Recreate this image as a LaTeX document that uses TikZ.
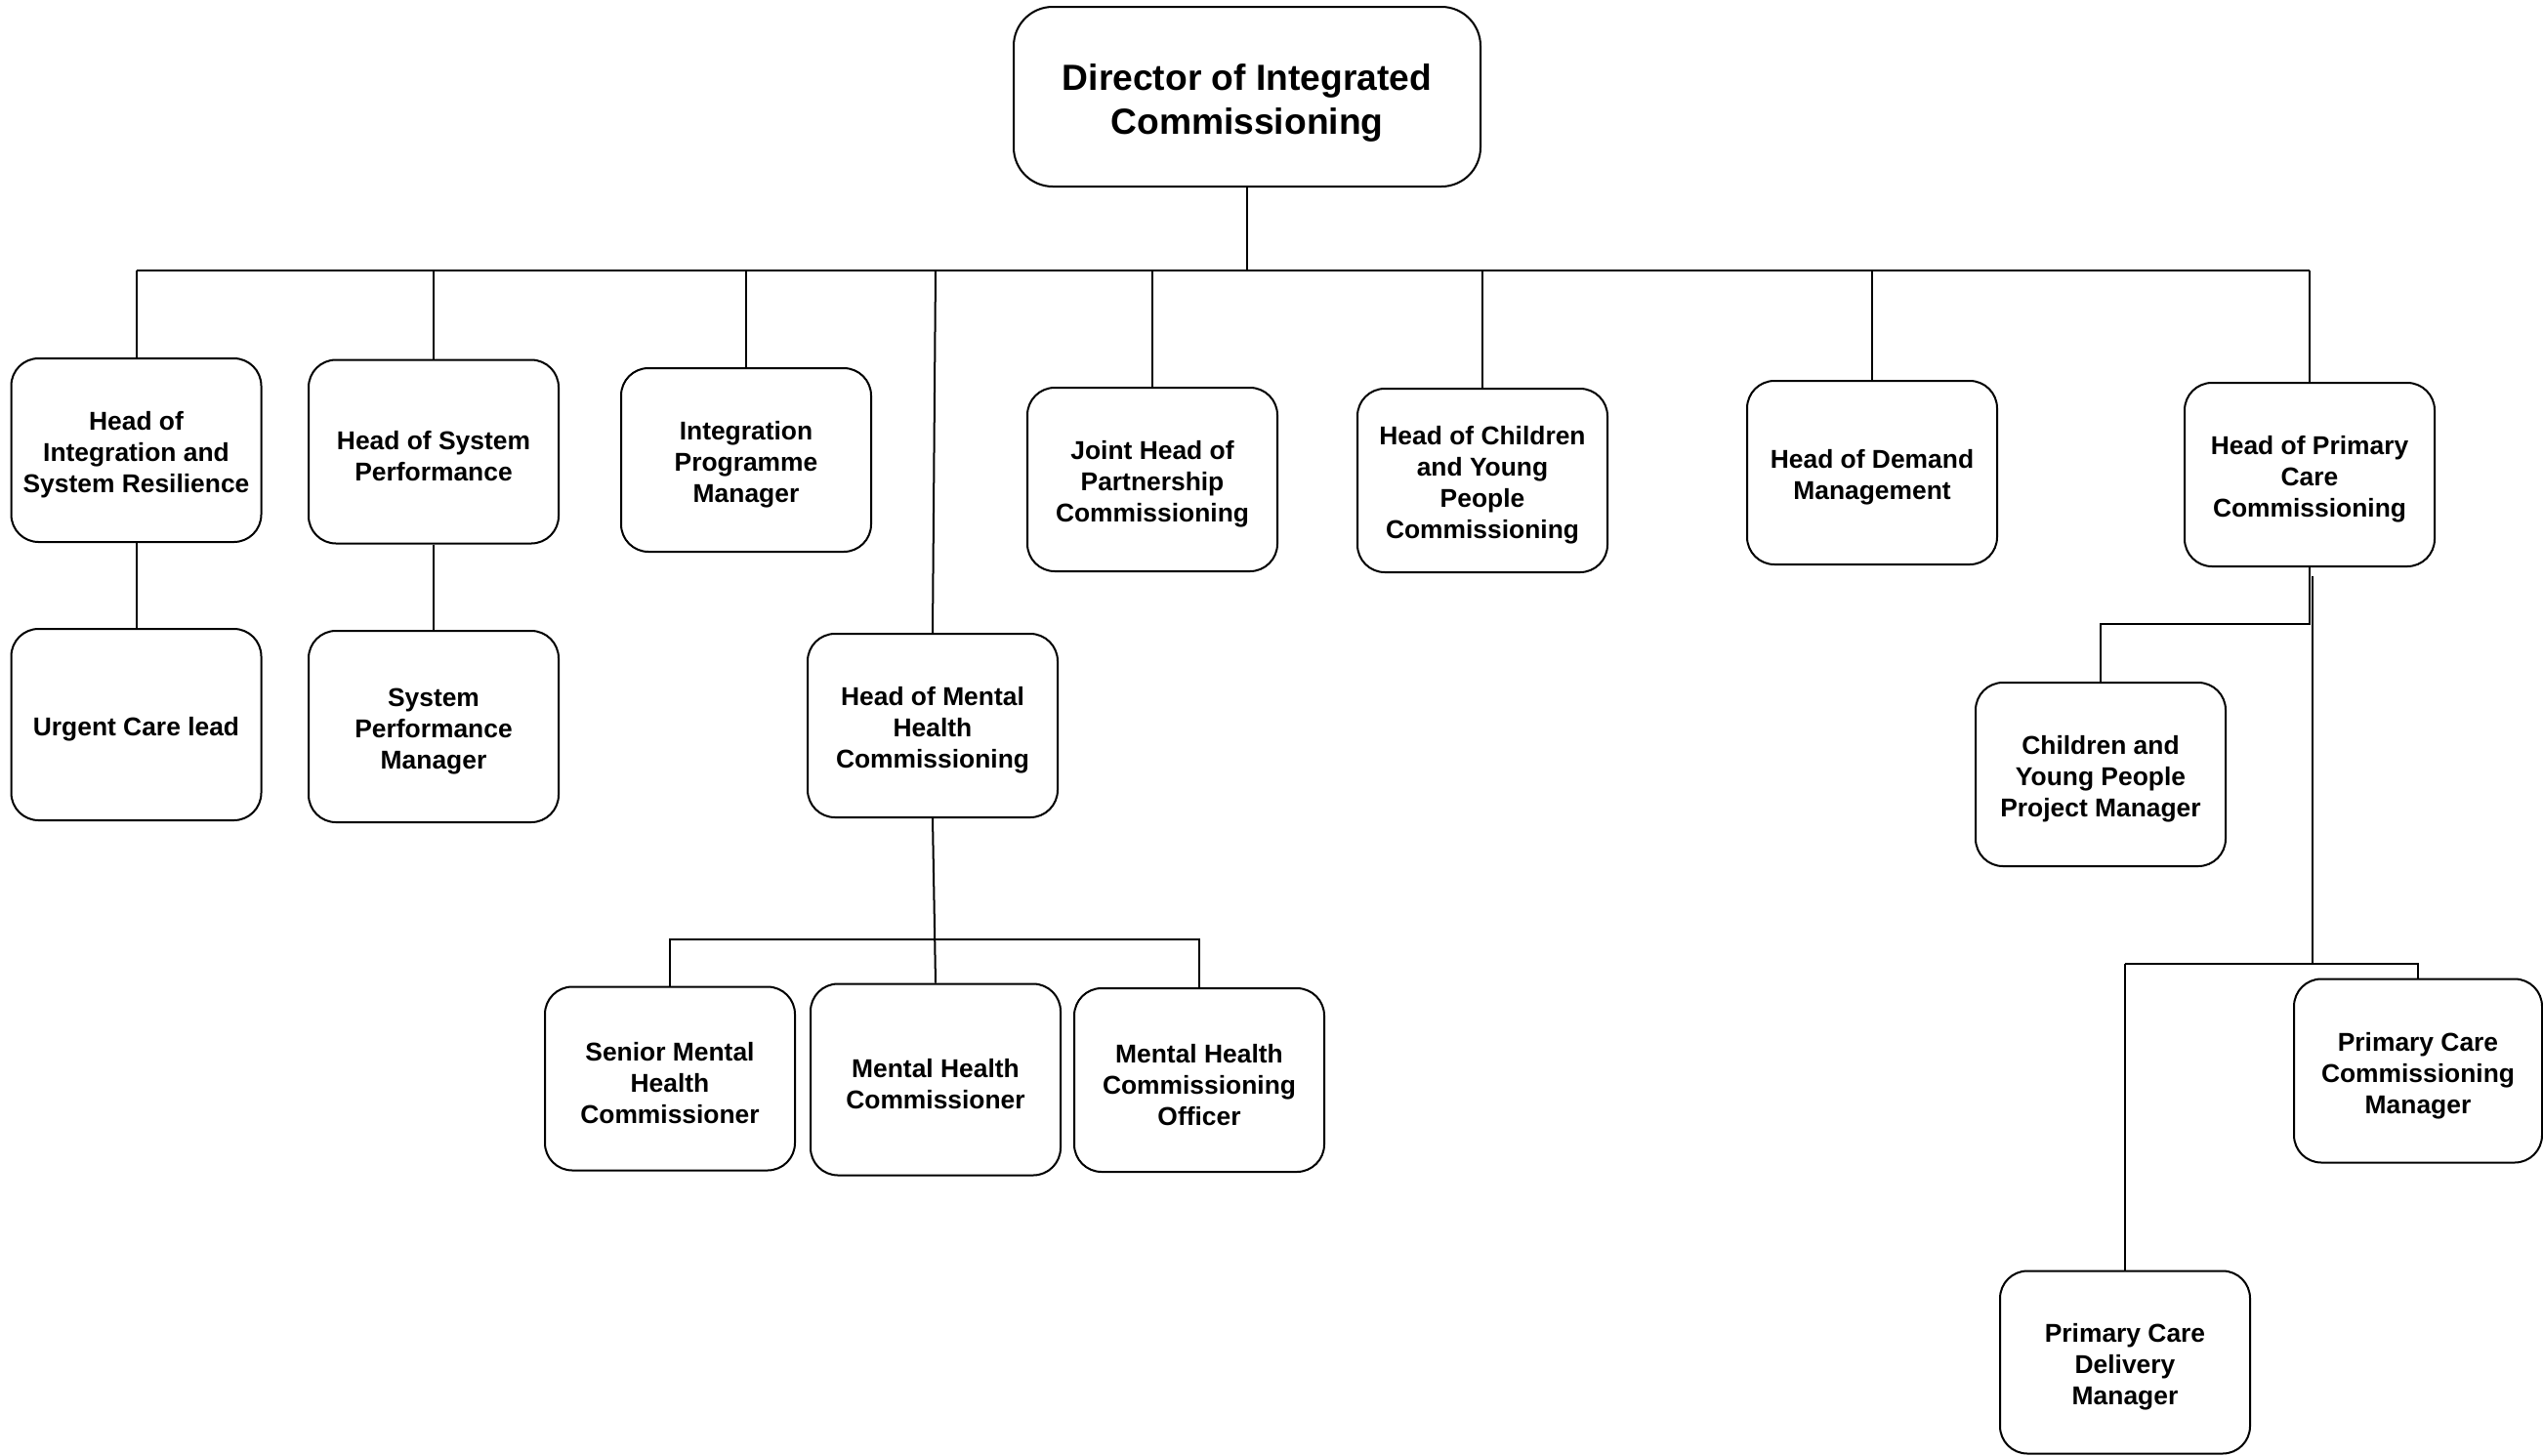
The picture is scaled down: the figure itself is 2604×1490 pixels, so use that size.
\documentclass[tikz,border=0pt]{standalone}
\usepackage{fontspec}
\setmainfont{Liberation Sans}
\newcommand\tsa{\rule{0pt}{14.6pt}}
\newcommand\tsb{\rule{0pt}{19.8pt}}
\begin{document}
\begin{tikzpicture}[x=0.5pt,y=-0.5pt,
  line width=1pt,
  box/.style={draw, rounded corners=14pt, minimum width=128pt, minimum height=94pt,
    inner sep=0pt, align=center, font=\fontsize{13.2}{16}\selectfont\bfseries, fill=white},
  topbox/.style={draw, rounded corners=20pt, minimum width=239pt, minimum height=92pt,
    inner sep=0pt, align=center, font=\fontsize{18.6}{22.6}\selectfont\bfseries, fill=white},
  conn/.style={draw, line width=1pt}]
\useasboundingbox (0,0) rectangle (2604,1490);

\node[topbox] (dir) at (1277,99) {\tsb Director of Integrated\\Commissioning};

\node[box] (b1) at (139.5,461) {\tsa Head of\\Integration and\\System Resilience};
\node[box] (b2) at (444,462.5) {\tsa Head of System\\Performance};
\node[box] (b3) at (764,471) {\tsa Integration\\Programme\\Manager};
\node[box] (b4) at (955,743) {\tsa Head of Mental\\Health\\Commissioning};
\node[box] (b5) at (1180,491) {\tsa Joint Head of\\Partnership\\Commissioning};
\node[box] (b6) at (1518,492) {\tsa Head of Children\\and Young\\People\\Commissioning};
\node[box] (b7) at (1917,484) {\tsa Head of Demand\\Management};
\node[box] (b8) at (2365,486) {\tsa Head of Primary\\Care\\Commissioning};

\node[box, minimum height=98pt] (uc) at (139.5,742) {\tsa Urgent Care lead};
\node[box, minimum height=98pt] (spm) at (444,744) {\tsa System\\Performance\\Manager};
\node[box] (smh) at (686,1104.5) {\tsa Senior Mental\\Health\\Commissioner};
\node[box, minimum height=98pt] (mhc) at (958,1105.5) {\tsa Mental Health\\Commissioner};
\node[box] (mhco) at (1228,1106) {\tsa Mental Health\\Commissioning\\Officer};
\node[box] (cyp) at (2151,793) {\tsa Children and\\Young People\\Project Manager};
\node[box, minimum width=127pt] (pccm) at (2476,1096.5) {\tsa Primary Care\\Commissioning\\Manager};
\node[box, minimum height=93.5pt] (pcdm) at (2176,1395) {\tsa Primary Care\\Delivery\\Manager};

% main bus
\coordinate (bus) at (0,277);
\draw[conn] (dir.south) -- (dir.south |- bus);
\draw[conn] (b1.north |- bus) -- (b8.north |- bus);
\foreach \n in {b1,b2,b3,b5,b6,b7,b8}{
  \draw[conn] (\n.north |- bus) -- (\n.north);
}
\coordinate (mhtop) at (958,277);
\draw[conn] (mhtop) -- (b4.north);

\draw[conn] (b1.south) -- (uc.north);
\draw[conn] (b2.south) -- (spm.north);

% mental health
\coordinate (mb) at (0,962);
\draw[conn] (b4.south) -- (mhc.north);
\draw[conn] (smh.north) -- (smh.north |- mb) -- (mhco.north |- mb) -- (mhco.north);

% primary care
\coordinate (p1) at (2365,639);
\draw[conn] (b8.south) -- (p1) -- (p1 -| cyp.north) -- (cyp.north);
\coordinate (p2) at (2368,590);
\coordinate (p3) at (2368,987);
\draw[conn] (p2) -- (p3);
\draw[conn] (pcdm.north |- p3) -- (pccm.north |- p3) -- (pccm.north);
\draw[conn] (pcdm.north |- p3) -- (pcdm.north);
\end{tikzpicture}
\end{document}
